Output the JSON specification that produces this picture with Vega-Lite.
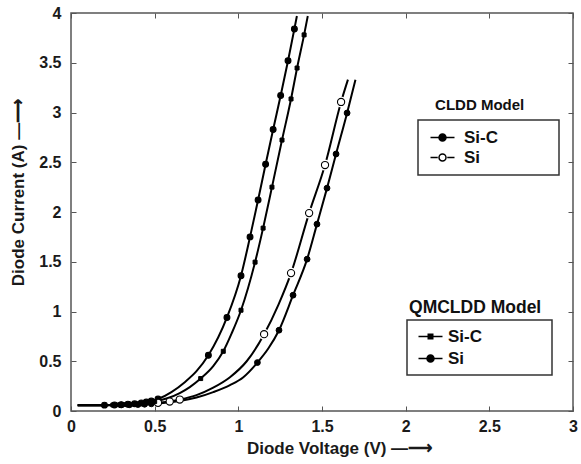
{
  "$schema": "https://vega.github.io/schema/vega-lite/v6.json",
  "width": 502,
  "height": 398,
  "autosize": {"type": "none"},
  "padding": {"left": 71, "top": 13, "right": 8, "bottom": 53},
  "background": "white",
  "config": {"view": {"stroke": "#555", "strokeWidth": 1.5}, "font": "Liberation Sans"},
  "datasets": {
    "curves": [
      {"model": "CLDD", "material": "Si-C", "v": 0.04, "i": 0.057},
      {"model": "CLDD", "material": "Si-C", "v": 0.15, "i": 0.058},
      {"model": "CLDD", "material": "Si-C", "v": 0.2, "i": 0.059},
      {"model": "CLDD", "material": "Si-C", "v": 0.3, "i": 0.064},
      {"model": "CLDD", "material": "Si-C", "v": 0.38, "i": 0.072},
      {"model": "CLDD", "material": "Si-C", "v": 0.45, "i": 0.09},
      {"model": "CLDD", "material": "Si-C", "v": 0.52, "i": 0.12},
      {"model": "CLDD", "material": "Si-C", "v": 0.6, "i": 0.19},
      {"model": "CLDD", "material": "Si-C", "v": 0.68, "i": 0.29},
      {"model": "CLDD", "material": "Si-C", "v": 0.75, "i": 0.4},
      {"model": "CLDD", "material": "Si-C", "v": 0.821, "i": 0.56},
      {"model": "CLDD", "material": "Si-C", "v": 0.932, "i": 0.94},
      {"model": "CLDD", "material": "Si-C", "v": 1.016, "i": 1.36},
      {"model": "CLDD", "material": "Si-C", "v": 1.07, "i": 1.75},
      {"model": "CLDD", "material": "Si-C", "v": 1.118, "i": 2.12},
      {"model": "CLDD", "material": "Si-C", "v": 1.163, "i": 2.48},
      {"model": "CLDD", "material": "Si-C", "v": 1.208, "i": 2.83},
      {"model": "CLDD", "material": "Si-C", "v": 1.253, "i": 3.17},
      {"model": "CLDD", "material": "Si-C", "v": 1.297, "i": 3.52},
      {"model": "CLDD", "material": "Si-C", "v": 1.335, "i": 3.84},
      {"model": "CLDD", "material": "Si-C", "v": 1.35, "i": 3.97},

      {"model": "QMCLDD", "material": "Si-C", "v": 0.04, "i": 0.057},
      {"model": "QMCLDD", "material": "Si-C", "v": 0.15, "i": 0.058},
      {"model": "QMCLDD", "material": "Si-C", "v": 0.25, "i": 0.06},
      {"model": "QMCLDD", "material": "Si-C", "v": 0.33, "i": 0.065},
      {"model": "QMCLDD", "material": "Si-C", "v": 0.42, "i": 0.075},
      {"model": "QMCLDD", "material": "Si-C", "v": 0.5, "i": 0.095},
      {"model": "QMCLDD", "material": "Si-C", "v": 0.58, "i": 0.13},
      {"model": "QMCLDD", "material": "Si-C", "v": 0.65, "i": 0.18},
      {"model": "QMCLDD", "material": "Si-C", "v": 0.71, "i": 0.24},
      {"model": "QMCLDD", "material": "Si-C", "v": 0.775, "i": 0.326},
      {"model": "QMCLDD", "material": "Si-C", "v": 0.85, "i": 0.45},
      {"model": "QMCLDD", "material": "Si-C", "v": 0.91, "i": 0.6},
      {"model": "QMCLDD", "material": "Si-C", "v": 0.96, "i": 0.78},
      {"model": "QMCLDD", "material": "Si-C", "v": 1.016, "i": 1.013},
      {"model": "QMCLDD", "material": "Si-C", "v": 1.1, "i": 1.496},
      {"model": "QMCLDD", "material": "Si-C", "v": 1.148, "i": 1.838},
      {"model": "QMCLDD", "material": "Si-C", "v": 1.201, "i": 2.25},
      {"model": "QMCLDD", "material": "Si-C", "v": 1.261, "i": 2.723},
      {"model": "QMCLDD", "material": "Si-C", "v": 1.315, "i": 3.136},
      {"model": "QMCLDD", "material": "Si-C", "v": 1.351, "i": 3.447},
      {"model": "QMCLDD", "material": "Si-C", "v": 1.393, "i": 3.78},
      {"model": "QMCLDD", "material": "Si-C", "v": 1.415, "i": 3.97},

      {"model": "CLDD", "material": "Si", "v": 0.04, "i": 0.057},
      {"model": "CLDD", "material": "Si", "v": 0.15, "i": 0.058},
      {"model": "CLDD", "material": "Si", "v": 0.25, "i": 0.06},
      {"model": "CLDD", "material": "Si", "v": 0.35, "i": 0.063},
      {"model": "CLDD", "material": "Si", "v": 0.45, "i": 0.072},
      {"model": "CLDD", "material": "Si", "v": 0.52, "i": 0.082},
      {"model": "CLDD", "material": "Si", "v": 0.59, "i": 0.095},
      {"model": "CLDD", "material": "Si", "v": 0.65, "i": 0.115},
      {"model": "CLDD", "material": "Si", "v": 0.75, "i": 0.16},
      {"model": "CLDD", "material": "Si", "v": 0.85, "i": 0.235},
      {"model": "CLDD", "material": "Si", "v": 0.95, "i": 0.34},
      {"model": "CLDD", "material": "Si", "v": 1.05, "i": 0.5},
      {"model": "CLDD", "material": "Si", "v": 1.154, "i": 0.772},
      {"model": "CLDD", "material": "Si", "v": 1.24, "i": 1.07},
      {"model": "CLDD", "material": "Si", "v": 1.315, "i": 1.386},
      {"model": "CLDD", "material": "Si", "v": 1.423, "i": 1.989},
      {"model": "CLDD", "material": "Si", "v": 1.518, "i": 2.472},
      {"model": "CLDD", "material": "Si", "v": 1.614, "i": 3.106},
      {"model": "CLDD", "material": "Si", "v": 1.655, "i": 3.33},

      {"model": "QMCLDD", "material": "Si", "v": 0.04, "i": 0.057},
      {"model": "QMCLDD", "material": "Si", "v": 0.15, "i": 0.058},
      {"model": "QMCLDD", "material": "Si", "v": 0.25, "i": 0.06},
      {"model": "QMCLDD", "material": "Si", "v": 0.3, "i": 0.061},
      {"model": "QMCLDD", "material": "Si", "v": 0.4, "i": 0.065},
      {"model": "QMCLDD", "material": "Si", "v": 0.48, "i": 0.072},
      {"model": "QMCLDD", "material": "Si", "v": 0.55, "i": 0.08},
      {"model": "QMCLDD", "material": "Si", "v": 0.65, "i": 0.1},
      {"model": "QMCLDD", "material": "Si", "v": 0.75, "i": 0.135},
      {"model": "QMCLDD", "material": "Si", "v": 0.85, "i": 0.19},
      {"model": "QMCLDD", "material": "Si", "v": 0.95, "i": 0.26},
      {"model": "QMCLDD", "material": "Si", "v": 1.03, "i": 0.34},
      {"model": "QMCLDD", "material": "Si", "v": 1.114, "i": 0.487},
      {"model": "QMCLDD", "material": "Si", "v": 1.18, "i": 0.63},
      {"model": "QMCLDD", "material": "Si", "v": 1.243, "i": 0.812},
      {"model": "QMCLDD", "material": "Si", "v": 1.327, "i": 1.164},
      {"model": "QMCLDD", "material": "Si", "v": 1.411, "i": 1.526},
      {"model": "QMCLDD", "material": "Si", "v": 1.47, "i": 1.878},
      {"model": "QMCLDD", "material": "Si", "v": 1.53, "i": 2.24},
      {"model": "QMCLDD", "material": "Si", "v": 1.584, "i": 2.583},
      {"model": "QMCLDD", "material": "Si", "v": 1.65, "i": 2.995},
      {"model": "QMCLDD", "material": "Si", "v": 1.7, "i": 3.33}
    ],
    "markers": [
      {"model": "CLDD", "material": "Si-C", "v": 0.2, "i": 0.059},
      {"model": "CLDD", "material": "Si-C", "v": 0.26, "i": 0.061},
      {"model": "CLDD", "material": "Si-C", "v": 0.3, "i": 0.064},
      {"model": "CLDD", "material": "Si-C", "v": 0.34, "i": 0.068},
      {"model": "CLDD", "material": "Si-C", "v": 0.38, "i": 0.072},
      {"model": "CLDD", "material": "Si-C", "v": 0.42, "i": 0.081},
      {"model": "CLDD", "material": "Si-C", "v": 0.45, "i": 0.09},
      {"model": "CLDD", "material": "Si-C", "v": 0.48, "i": 0.1},
      {"model": "CLDD", "material": "Si-C", "v": 0.52, "i": 0.12},
      {"model": "CLDD", "material": "Si-C", "v": 0.821, "i": 0.56},
      {"model": "CLDD", "material": "Si-C", "v": 0.932, "i": 0.94},
      {"model": "CLDD", "material": "Si-C", "v": 1.016, "i": 1.36},
      {"model": "CLDD", "material": "Si-C", "v": 1.07, "i": 1.75},
      {"model": "CLDD", "material": "Si-C", "v": 1.118, "i": 2.12},
      {"model": "CLDD", "material": "Si-C", "v": 1.163, "i": 2.48},
      {"model": "CLDD", "material": "Si-C", "v": 1.208, "i": 2.83},
      {"model": "CLDD", "material": "Si-C", "v": 1.253, "i": 3.17},
      {"model": "CLDD", "material": "Si-C", "v": 1.297, "i": 3.52},
      {"model": "CLDD", "material": "Si-C", "v": 1.335, "i": 3.84},

      {"model": "QMCLDD", "material": "Si-C", "v": 0.25, "i": 0.06},
      {"model": "QMCLDD", "material": "Si-C", "v": 0.29, "i": 0.062},
      {"model": "QMCLDD", "material": "Si-C", "v": 0.33, "i": 0.065},
      {"model": "QMCLDD", "material": "Si-C", "v": 0.38, "i": 0.07},
      {"model": "QMCLDD", "material": "Si-C", "v": 0.42, "i": 0.075},
      {"model": "QMCLDD", "material": "Si-C", "v": 0.46, "i": 0.084},
      {"model": "QMCLDD", "material": "Si-C", "v": 0.5, "i": 0.095},
      {"model": "QMCLDD", "material": "Si-C", "v": 0.775, "i": 0.326},
      {"model": "QMCLDD", "material": "Si-C", "v": 0.91, "i": 0.6},
      {"model": "QMCLDD", "material": "Si-C", "v": 1.016, "i": 1.013},
      {"model": "QMCLDD", "material": "Si-C", "v": 1.1, "i": 1.496},
      {"model": "QMCLDD", "material": "Si-C", "v": 1.148, "i": 1.838},
      {"model": "QMCLDD", "material": "Si-C", "v": 1.201, "i": 2.25},
      {"model": "QMCLDD", "material": "Si-C", "v": 1.261, "i": 2.723},
      {"model": "QMCLDD", "material": "Si-C", "v": 1.315, "i": 3.136},
      {"model": "QMCLDD", "material": "Si-C", "v": 1.351, "i": 3.447},
      {"model": "QMCLDD", "material": "Si-C", "v": 1.393, "i": 3.78},

      {"model": "CLDD", "material": "Si", "v": 0.52, "i": 0.082},
      {"model": "CLDD", "material": "Si", "v": 0.59, "i": 0.095},
      {"model": "CLDD", "material": "Si", "v": 0.65, "i": 0.115},
      {"model": "CLDD", "material": "Si", "v": 1.154, "i": 0.772},
      {"model": "CLDD", "material": "Si", "v": 1.315, "i": 1.386},
      {"model": "CLDD", "material": "Si", "v": 1.423, "i": 1.989},
      {"model": "CLDD", "material": "Si", "v": 1.518, "i": 2.472},
      {"model": "CLDD", "material": "Si", "v": 1.614, "i": 3.106},

      {"model": "QMCLDD", "material": "Si", "v": 0.3, "i": 0.061},
      {"model": "QMCLDD", "material": "Si", "v": 0.35, "i": 0.063},
      {"model": "QMCLDD", "material": "Si", "v": 0.4, "i": 0.065},
      {"model": "QMCLDD", "material": "Si", "v": 0.44, "i": 0.068},
      {"model": "QMCLDD", "material": "Si", "v": 0.48, "i": 0.072},
      {"model": "QMCLDD", "material": "Si", "v": 1.114, "i": 0.487},
      {"model": "QMCLDD", "material": "Si", "v": 1.243, "i": 0.812},
      {"model": "QMCLDD", "material": "Si", "v": 1.327, "i": 1.164},
      {"model": "QMCLDD", "material": "Si", "v": 1.411, "i": 1.526},
      {"model": "QMCLDD", "material": "Si", "v": 1.47, "i": 1.878},
      {"model": "QMCLDD", "material": "Si", "v": 1.53, "i": 2.24},
      {"model": "QMCLDD", "material": "Si", "v": 1.584, "i": 2.583},
      {"model": "QMCLDD", "material": "Si", "v": 1.65, "i": 2.995}
    ]
  },
  "layer": [
    {
      "data": {"name": "curves"},
      "mark": {"type": "line", "color": "black", "strokeWidth": 2, "interpolate": "monotone"},
      "encoding": {
        "x": {
          "field": "v", "type": "quantitative",
          "scale": {"domain": [0, 3], "nice": false, "zero": false},
          "axis": {
            "orient": "bottom", "values": [0, 0.5, 1, 1.5, 2, 2.5, 3], "format": "~g",
            "domain": false, "grid": false, "tickSize": -5, "tickColor": "#555", "tickWidth": 1,
            "labelPadding": 12, "labelFont": "Liberation Sans", "labelFontSize": 16, "labelFontWeight": "bold",
            "labelColor": "#1a1a1a", "labelBaseline": "top", "labelFlush": false, "labelOverlap": false,
            "title": "Diode Voltage (V)  —⟶", "titleFont": "Liberation Sans", "titleFontSize": 17,
            "titleFontWeight": "bold", "titleColor": "#1a1a1a", "titleX": 268, "titleY": 42,
            "titleAlign": "center", "titleBaseline": "alphabetic"
          }
        },
        "y": {
          "field": "i", "type": "quantitative",
          "scale": {"domain": [0, 4], "nice": false, "zero": false},
          "axis": {
            "orient": "left", "values": [0, 0.5, 1, 1.5, 2, 2.5, 3, 3.5, 4], "format": "~g",
            "domain": false, "grid": false, "tickSize": -5, "tickColor": "#555", "tickWidth": 1,
            "labelPadding": 15, "labelFont": "Liberation Sans", "labelFontSize": 16, "labelFontWeight": "bold",
            "labelColor": "#1a1a1a", "labelFlush": false, "labelOverlap": false,
            "title": "Diode Current (A)  —⟶", "titleFont": "Liberation Sans", "titleFontSize": 17,
            "titleFontWeight": "bold", "titleColor": "#1a1a1a", "titleX": -53, "titleY": 179,
            "titleAngle": 270, "titleAlign": "center", "titleBaseline": "middle"
          }
        },
        "detail": [{"field": "model"}, {"field": "material"}]
      }
    },
    {
      "data": {"name": "markers"},
      "transform": [{"filter": "datum.model === 'CLDD' && datum.material === 'Si' && datum.v > 1"}],
      "mark": {"type": "point", "filled": true, "fill": "white", "strokeWidth": 0, "opacity": 1, "shape": "circle", "size": 120},
      "encoding": {
        "x": {"field": "v", "type": "quantitative", "axis": null},
        "y": {"field": "i", "type": "quantitative", "axis": null}
      }
    },
    {
      "data": {"name": "markers"},
      "transform": [{"filter": "datum.model === 'CLDD'"}],
      "mark": {"type": "point", "filled": true, "stroke": "black", "strokeWidth": 1.1, "opacity": 1, "shape": "circle"},
      "encoding": {
        "x": {"field": "v", "type": "quantitative", "axis": null},
        "y": {"field": "i", "type": "quantitative", "axis": null},
        "fill": {
          "field": "material", "type": "nominal",
          "scale": {"domain": ["Si-C", "Si"], "range": ["black", "white"]},
          "legend": null
        },
        "size": {
          "field": "material", "type": "nominal",
          "scale": {"domain": ["Si-C", "Si"], "range": [34, 52]},
          "legend": null
        }
      }
    },
    {
      "data": {"name": "markers"},
      "transform": [{"filter": "datum.model === 'QMCLDD'"}],
      "mark": {"type": "point", "filled": true, "stroke": "black", "strokeWidth": 1, "opacity": 1, "fill": "black"},
      "encoding": {
        "x": {"field": "v", "type": "quantitative", "axis": null},
        "y": {"field": "i", "type": "quantitative", "axis": null},
        "shape": {
          "field": "material", "type": "nominal",
          "scale": {"domain": ["Si-C", "Si"], "range": ["square", "circle"]},
          "legend": null
        },
        "size": {
          "field": "material", "type": "nominal",
          "scale": {"domain": ["Si-C", "Si"], "range": [16, 34]},
          "legend": null
        }
      }
    },
    {
      "data": {"name": "markers"},
      "transform": [{"filter": "false"}],
      "mark": {"type": "point", "filled": true, "stroke": "black", "strokeWidth": 1.5, "opacity": 1},
      "encoding": {
        "x": {"field": "v", "type": "quantitative", "axis": null},
        "y": {"field": "i", "type": "quantitative", "axis": null},
        "shape": {
          "field": "material", "type": "nominal",
          "scale": {"domain": ["Si-C", "Si"], "range": ["M-1,0L3.8,0M0.7,0A0.7,0.7,0,1,1,2.1,0A0.7,0.7,0,1,1,0.7,0Z", "M-1,0L0.45,0M2.35,0L3.8,0M0.7,0A0.7,0.7,0,1,1,2.1,0A0.7,0.7,0,1,1,0.7,0Z"]},
          "legend": {
            "orient": "none", "legendX": 347, "legendY": 107, "title": null, "direction": "vertical",
            "padding": 9, "rowPadding": 2, "strokeColor": "#333", "symbolOpacity": 1,
            "labelFont": "Liberation Sans", "labelFontSize": 17, "labelFontWeight": "bold", "labelColor": "#111",
            "labelOffset": 20, "symbolSize": 100, "symbolStrokeColor": "black", "symbolStrokeWidth": 1.5,
            "labelExpr": "datum.label + '\u00a0\u00a0\u00a0\u00a0\u00a0\u00a0\u00a0\u00a0\u00a0\u00a0\u00a0\u200b'",
            "encode": {"legend": {"update": {"strokeWidth": {"value": 1.5}}}}
          }
        },
        "fill": {
          "field": "material", "type": "nominal",
          "scale": {"domain": ["Si-C", "Si"], "range": ["black", "white"]},
          "legend": {
            "orient": "none", "legendX": 347, "legendY": 107, "title": null, "direction": "vertical",
            "padding": 9, "rowPadding": 2, "strokeColor": "#333", "symbolOpacity": 1,
            "labelFont": "Liberation Sans", "labelFontSize": 17, "labelFontWeight": "bold", "labelColor": "#111",
            "labelOffset": 20, "symbolSize": 100, "symbolStrokeColor": "black", "symbolStrokeWidth": 1.5,
            "labelExpr": "datum.label + '\u00a0\u00a0\u00a0\u00a0\u00a0\u00a0\u00a0\u00a0\u00a0\u00a0\u00a0\u200b'",
            "encode": {"legend": {"update": {"strokeWidth": {"value": 1.5}}}}
          }
        }
      }
    },
    {
      "data": {"name": "markers"},
      "transform": [{"filter": "false"}],
      "mark": {"type": "point", "filled": true, "stroke": "black", "strokeWidth": 1.5, "opacity": 1},
      "encoding": {
        "x": {"field": "v", "type": "quantitative", "axis": null},
        "y": {"field": "i", "type": "quantitative", "axis": null},
        "shape": {
          "field": "material", "type": "nominal",
          "scale": {"domain": ["Si-C", "Si"], "range": ["M-1,0L3.8,0M0.95,-0.45L1.85,-0.45L1.85,0.45L0.95,0.45Z", "M-1,0L3.8,0M0.7,0A0.7,0.7,0,1,1,2.1,0A0.7,0.7,0,1,1,0.7,0Z"]},
          "legend": {
            "orient": "none", "legendX": 336, "legendY": 307, "title": null, "direction": "vertical",
            "padding": 8, "rowPadding": 4, "strokeColor": "#333", "symbolOpacity": 1,
            "labelFont": "Liberation Sans", "labelFontSize": 17, "labelFontWeight": "bold", "labelColor": "#111",
            "labelOffset": 16, "symbolSize": 100, "symbolStrokeColor": "black", "symbolStrokeWidth": 1.5,
            "labelExpr": "datum.label + '\u00a0\u00a0\u00a0\u00a0\u00a0\u00a0\u00a0\u00a0\u00a0\u00a0\u00a0\u00a0\u00a0\u200b'",
            "encode": {"legend": {"update": {"strokeWidth": {"value": 1.5}}}}
          }
        },
        "fill": {
          "field": "material", "type": "nominal",
          "scale": {"domain": ["Si-C", "Si"], "range": ["black", "black"]},
          "legend": {
            "orient": "none", "legendX": 336, "legendY": 307, "title": null, "direction": "vertical",
            "padding": 8, "rowPadding": 4, "strokeColor": "#333", "symbolOpacity": 1,
            "labelFont": "Liberation Sans", "labelFontSize": 17, "labelFontWeight": "bold", "labelColor": "#111",
            "labelOffset": 16, "symbolSize": 100, "symbolStrokeColor": "black", "symbolStrokeWidth": 1.5,
            "labelExpr": "datum.label + '\u00a0\u00a0\u00a0\u00a0\u00a0\u00a0\u00a0\u00a0\u00a0\u00a0\u00a0\u00a0\u00a0\u200b'",
            "encode": {"legend": {"update": {"strokeWidth": {"value": 1.5}}}}
          }
        }
      }
    },
    {
      "data": {"values": [{}]},
      "mark": {"type": "text", "align": "left", "baseline": "alphabetic", "font": "Liberation Sans", "fontSize": 15, "fontWeight": "bold", "color": "#111"},
      "encoding": {
        "x": {
          "datum": 2.176, "type": "quantitative",
          "axis": {"orient": "top", "labels": false, "title": null, "domain": false, "grid": false, "tickSize": -5, "tickColor": "#555", "tickWidth": 1, "values": [0, 0.5, 1, 1.5, 2, 2.5, 3]}
        },
        "y": {
          "datum": 3.025, "type": "quantitative",
          "axis": {"orient": "right", "labels": false, "title": null, "domain": false, "grid": false, "tickSize": -5, "tickColor": "#555", "tickWidth": 1, "values": [0, 0.5, 1, 1.5, 2, 2.5, 3, 3.5, 4]}
        },
        "text": {"value": "CLDD Model"}
      }
    },
    {
      "data": {"values": [{}]},
      "mark": {"type": "text", "align": "left", "baseline": "alphabetic", "font": "Liberation Sans", "fontSize": 17.5, "fontWeight": "bold", "color": "#111"},
      "encoding": {
        "x": {"datum": 2.02, "type": "quantitative", "axis": null},
        "y": {"datum": 0.983, "type": "quantitative", "axis": null},
        "text": {"value": "QMCLDD Model"}
      }
    }
  ],
  "resolve": {
    "scale": {"shape": "independent", "fill": "independent", "size": "independent"},
    "axis": {"x": "independent", "y": "independent"}
  }
}
